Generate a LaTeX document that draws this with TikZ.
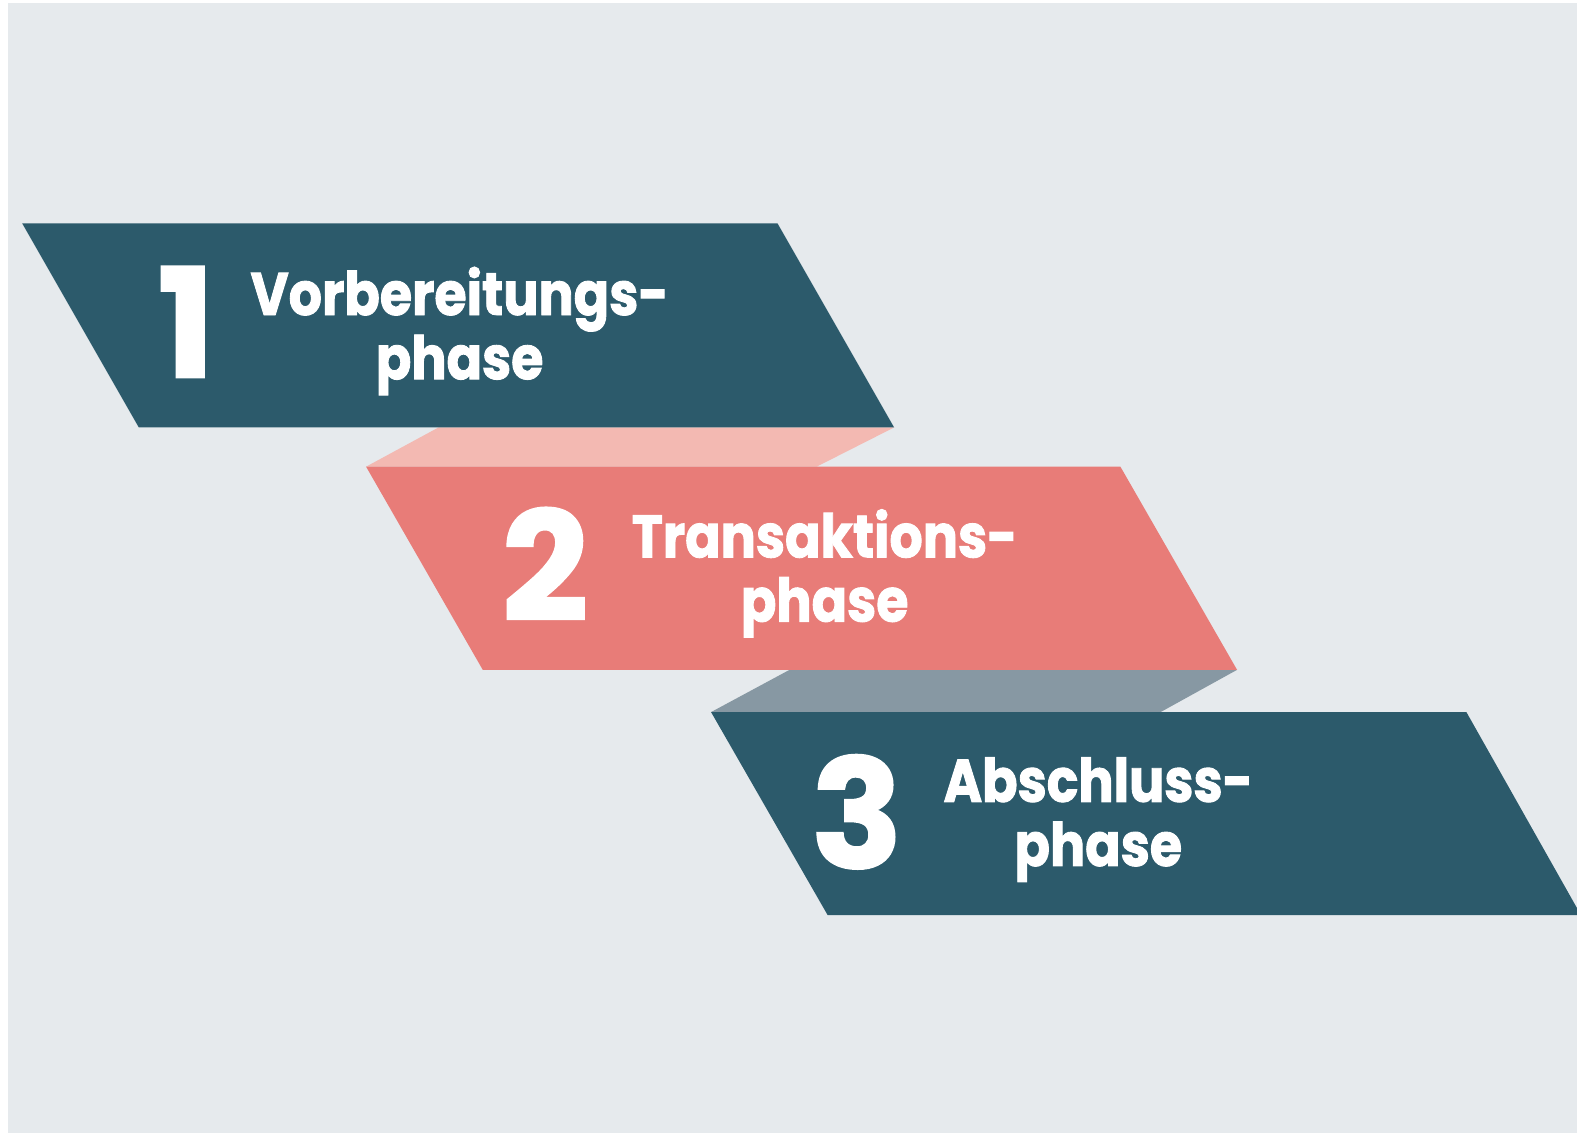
\documentclass[tikz,border=0pt]{standalone}
\usepackage{fontspec}
\setmainfont{Poppins}
\newfontfamily\phasefont{Poppins Bold}[FakeStretch=0.87, FakeBold=1.5]
\newfontfamily\numfont{Poppins Bold}[FakeBold=1.5]
\definecolor{bgGrey}{HTML}{E6EAED}
\definecolor{darkTeal}{HTML}{2C5A6B}
\definecolor{salmon}{HTML}{E87C78}
\definecolor{paleSalmon}{HTML}{F3B9B2}
\definecolor{slateGrey}{HTML}{8798A3}
\tikzset{
  phaselabel/.style={anchor=base, inner sep=0pt, align=center, text=white, font=\phasefont\fontsize{60.3}{64.4}\selectfont},
  numlabel/.style={anchor=base, inner sep=0pt, text=white, font=\numfont\fontsize{152}{152}\selectfont}
}
\begin{document}
\begin{tikzpicture}[x=1.0057bp, y=-1.0057bp]
\useasboundingbox (0, 0) rectangle (1568, 1126.6);
\fill [bgGrey] (8, 3) rectangle (1568, 1126.6);
%Shadows
\fill [paleSalmon] (436, 425) -- (889, 425) -- (812, 464) -- (364, 464) -- cycle;
\fill [slateGrey] (785, 666) -- (1230, 666) -- (1154, 708) -- (707, 708) -- cycle;
%Bands
\fill [darkTeal] (22, 222) -- (773, 222) -- (889, 425) -- (138, 425) -- cycle;
\fill [salmon] (364, 464) -- (1114, 464) -- (1230, 666) -- (480, 666) -- cycle;
\fill [darkTeal] (707, 708) -- (1458, 708) -- (1572, 910) -- (823, 910) -- cycle;
%Text
\node [numlabel] (num1) at (185, 375) {1};
\node [phaselabel] (label1) at (457, 377) {Vorbereitungs-\\phase};
\node [numlabel] (num2) at (542, 617) {2};
\node [phaselabel] (label2) at (820, 618) {Transaktions-\\phase};
\node [numlabel] (num3) at (852, 863) {3};
\node [phaselabel] (label3) at (1092, 861) {Abschluss-\\phase};
\end{tikzpicture}
\end{document}
